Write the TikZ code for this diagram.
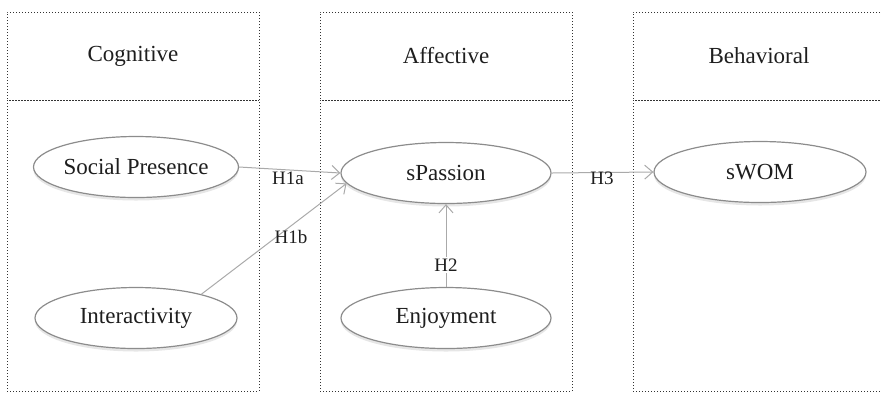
\documentclass[tikz,border=0pt]{standalone}
\usepackage{fontspec}
\setmainfont{Liberation Serif}
\usetikzlibrary{shapes.geometric,shadows,arrows.meta}
\definecolor{linegray}{RGB}{170,170,170}
\definecolor{ovalgray}{RGB}{140,140,140}
\definecolor{textgray}{RGB}{30,30,30}

\begin{document}
\begin{tikzpicture}[x=0.5pt,y=-0.5pt]
    % Define styles
    \tikzstyle{column} = [draw=black!80, densely dotted, line width=.5pt, rectangle, minimum width=126pt, inner sep=0, outer sep=0, text=textgray, font=\fontsize{11.5}{13}\selectfont]
    \tikzstyle{construct} = [draw=ovalgray, ellipse, line width=.6pt, fill=white, minimum height=30.5pt, inner sep=0, text=textgray, font=\fontsize{11.5}{13}\selectfont, drop shadow={shadow xshift=0pt, shadow yshift=-1.5pt, opacity=.2, fill=gray}]
    \tikzstyle{hyp} = [draw=linegray, line width=.5pt, -{Straight Barb[length=4pt,width=7pt]}]
    \tikzstyle{hlabel} = [inner sep=1pt, text=textgray, font=\fontsize{9.5}{11}\selectfont]

    \useasboundingbox (0,0) rectangle (881,393);
    \clip (0,0) rectangle (881,393);

    % Draw the columns
    \foreach \col/\cx/\ctitle in {1/133/Cognitive,2/446/Affective,3/759/Behavioral} {
        \node(head\col)[column, minimum height=44pt] at (\cx,56) {\ctitle};
        \node(body\col)[column, minimum height=145.5pt] at (\cx,245.5) {};
      }

    % Constructs
    \node(social)[construct, minimum width=101pt] at (136,167) {Social Presence};
    \node(inter)[construct, minimum width=101pt] at (136,318) {Interactivity};
    \node(spassion)[construct, minimum width=105pt] at (446,173) {sPassion};
    \node(enjoy)[construct, minimum width=105pt] at (446,318) {Enjoyment};
    \node(swom)[construct, minimum width=106pt] at (760,172) {sWOM};

    % Hypotheses
    \draw[hyp] (social.east) -- (spassion.west);
    \draw[hyp] (inter.20) -- (spassion.186);
    \draw[hyp] (enjoy.north) -- (spassion.south);
    \draw[hyp] (spassion.east) -- (swom.west);

    \node(h1a)[hlabel] at (288,178) {H1a};
    \node(h1b)[hlabel] at (291,237) {H1b};
    \node(h2)[hlabel, fill=white] at (446,265) {H2};
    \node(h3)[hlabel] at (602,178) {H3};
  \end{tikzpicture}
\end{document}
